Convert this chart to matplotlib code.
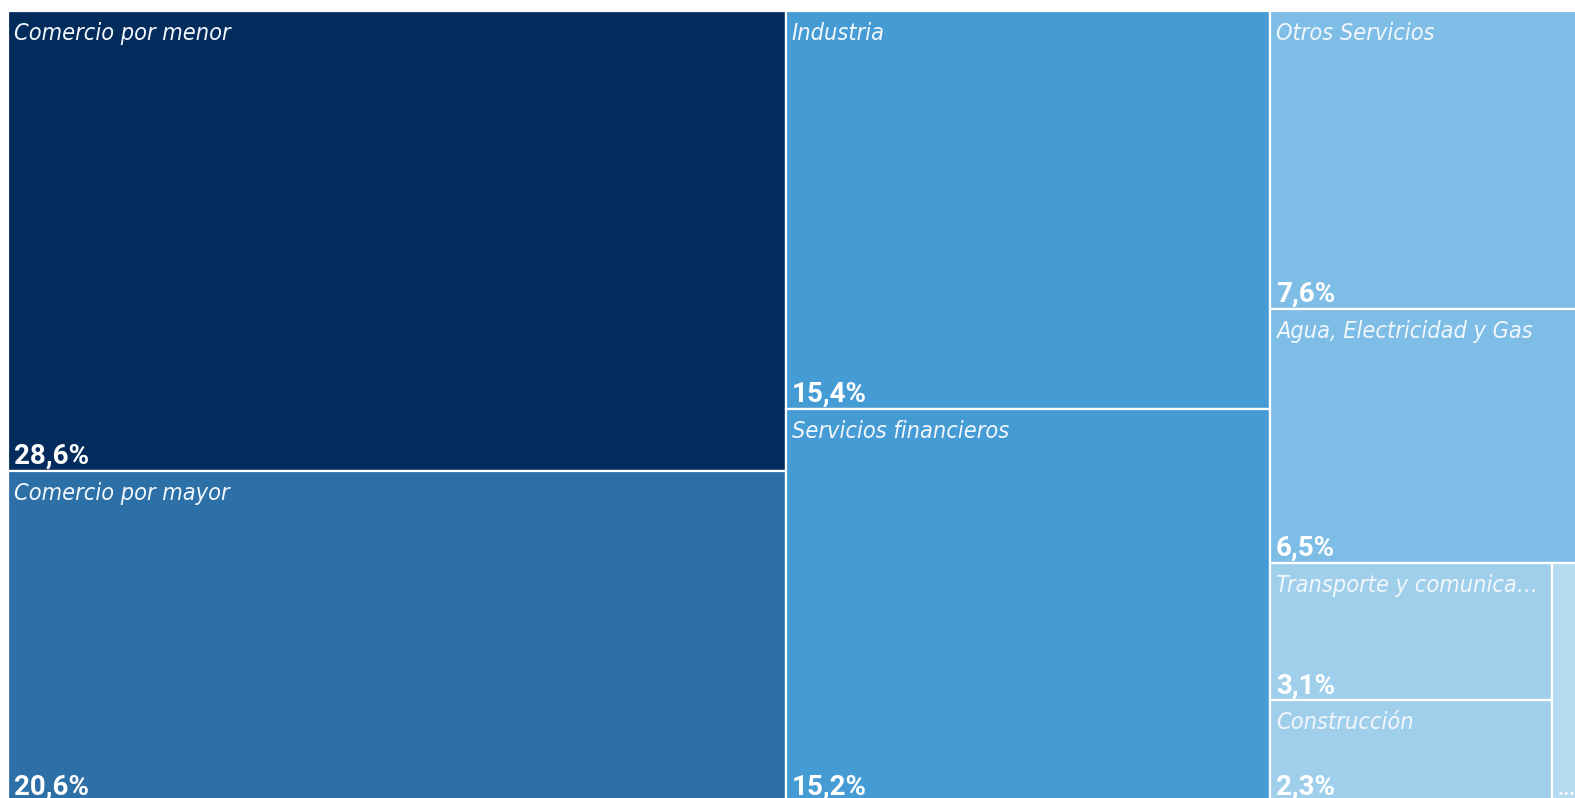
import matplotlib
matplotlib.use("Agg")
import matplotlib.pyplot as plt
from matplotlib.patches import Rectangle
from matplotlib import font_manager

# Data ===========================================================================
sectors = ["Comercio por menor", "Comercio por mayor", "Industria",
           "Servicios financieros", "Otros Servicios", "Agua, Electricidad y Gas",
           "Transporte y comunicaciones", "Construcción", "Resto"]
values = [28.6, 20.6, 15.4, 15.2, 7.6, 6.5, 3.1, 2.3, 0.7]
names_shown = ["Comercio por menor", "Comercio por mayor", "Industria",
               "Servicios financieros", "Otros Servicios", "Agua, Electricidad y Gas",
               "Transporte y comunica…", "Construcción", ""]
values_shown = ["28,6%", "20,6%", "15,4%", "15,2%", "7,6%", "6,5%", "3,1%", "2,3%", "..."]
colors = ["#032c5d", "#2c70a7", "#459bd4", "#459bd4", "#7dbde6", "#7dbde6",
          "#a0cfec", "#a0cfec", "#b5dbf1"]

# tile nesting (indices into the lists above), split direction alternates
tree = [[0, 1], [2, 3], [4, 5, [[6, 7], 8]]]


def total(node):
    if isinstance(node, int):
        return values[node]
    return sum(total(n) for n in node)


def layout(node, x, y, w, h, horiz, out):
    if isinstance(node, int):
        out[node] = (x, y, w, h)
        return
    s = total(node)
    pos = 0.0
    for child in node:
        f = total(child) / s
        if horiz:
            layout(child, x + pos * w, y, w * f, h, not horiz, out)
        else:
            layout(child, x, y + pos * h, w, h * f, not horiz, out)
        pos += f


rects = {}
layout(tree, 0.0, 0.0, 1.0, 1.0, True, rects)

# pick a narrow sans italic font if the system has one, else Roboto
name_prop = font_manager.FontProperties(family=["Roboto", "DejaVu Sans"], style="italic")
for f in font_manager.fontManager.ttflist:
    if "Serif" in f.name or "Mono" in f.name:
        continue
    if ("Narrow" in f.name or "Condensed" in f.name or f.stretch in ("condensed", "semi-condensed")) \
            and f.style in ("italic", "oblique") and f.weight in (400, "normal", "regular"):
        name_prop = font_manager.FontProperties(fname=f.fname)
        break

#Figure ==========================================================================
fig = plt.figure(figsize=(15.75, 7.98), dpi=100)
ax = fig.add_axes([8 / 1575, -4 / 798, 1581 / 1575, 791 / 798])
ax.set_xlim(0, 1)
ax.set_ylim(1, 0)
ax.axis("off")

# size the names so that "Comercio por menor" is about 216 px wide
renderer = fig.canvas.get_renderer()
probe = fig.text(0, 0, "Comercio por menor", fontproperties=name_prop, fontsize=20)
wpx = probe.get_window_extent(renderer).width
probe.remove()
name_size = 20 * 216 / wpx
fig_w = fig.bbox.width
ax_px = ax.get_window_extent(renderer)

for i in range(len(values)):
    x, y, w, h = rects[i]
    ax.add_patch(Rectangle((x, y), w, h, facecolor=colors[i],
                           edgecolor="white", linewidth=1.6))
    if names_shown[i]:
        ax.annotate(names_shown[i], (x, y), xytext=(6, -11), textcoords="offset pixels",
                    ha="left", va="top", color="#f2f7fb", fontsize=name_size,
                    fontproperties=name_prop)
    # small tiles (visible part narrower than ~50 px) get a smaller label
    x0 = ax_px.x0 + x * ax_px.width
    x1 = min(ax_px.x0 + (x + w) * ax_px.width, fig_w)
    small = (x1 - x0) < 50
    ax.annotate(values_shown[i], (x, y + h), xytext=(5 if small else 6, 7),
                textcoords="offset pixels", ha="left", va="baseline",
                color="#f4f9fd" if small else "white",
                fontsize=15 if small else 20, fontweight="bold",
                family=["Roboto", "DejaVu Sans"], annotation_clip=False)

fig.savefig("out.png", dpi=100, facecolor="white")
